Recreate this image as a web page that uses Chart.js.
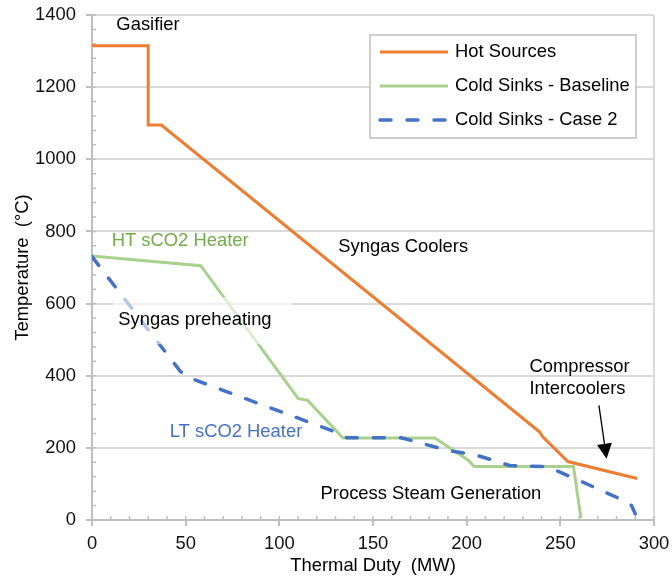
<!DOCTYPE html>
<html>
<head>
<meta charset="utf-8">
<script src="https://cdn.jsdelivr.net/npm/chart.js@4"></script>
<style>
  html,body{margin:0;background:#fff}
  #wrap{width:672px;height:580px}
</style>
</head>
<body>
<div id="wrap"><canvas id="c" width="672" height="580"></canvas></div>
<script>
/* ---- data ---- */
const hotX   = [0, 30, 30, 37, 239, 240.5, 254, 291];
const hotY   = [1315, 1315, 1095, 1095, 244, 231, 162, 115];
const baseX  = [0, 58, 110, 115, 134, 183, 201, 204, 257, 261];
const baseY  = [732, 705, 337, 332, 227, 227, 165, 148, 148, 5];
const case2X = [0, 47, 51, 130, 136, 165, 175, 190, 205, 223, 243, 262, 280, 288, 290];
const case2Y = [730, 413, 396, 244, 228, 228, 214, 193, 180, 151, 148, 105, 63, 40, 17];
const seriesNames = ['Hot Sources', 'Cold Sinks - Baseline', 'Cold Sinks - Case 2'];
const xTicks = [0, 50, 100, 150, 200, 250, 300];
const yTicks = [0, 200, 400, 600, 800, 1000, 1200, 1400];

// text labels on the plot, placed in data units
const notes = [
  {t:'Gasifier', x:13, y:1372, c:'#000'},
  {t:'HT sCO2 Heater', x:10.5, y:774, c:'#70ad47'},
  {t:'Syngas Coolers', x:131.5, y:757, c:'#000'},
  {t:'Syngas preheating', x:14, y:554, c:'#000', box:true},
  {t:'LT sCO2 Heater', x:41.5, y:244, c:'#4472c4'},
  {t:'Compressor', x:233.5, y:424, c:'#000'},
  {t:'Intercoolers', x:233.5, y:364, c:'#000'},
  {t:'Process Steam Generation', x:122, y:73.5, c:'#000'}
];
const arrow = {x1:270.6, y1:318, x2:274.7, y2:170};

const FONT = "'Liberation Sans', Arial, sans-serif";
const FS = 18.4;
const AXIS = '#bfbfbf', GRID = '#d9d9d9';
const pts = (xs, ys) => xs.map((x, i) => ({x, y: ys[i]}));

/* ---- extras: minor ticks, notes, arrow, legend ---- */
const extras = {
  id: 'extras',
  beforeDatasetsDraw(ch){
    const {ctx, chartArea:a, scales:{x, y}} = ch;
    ctx.save();
    ctx.strokeStyle = AXIS; ctx.lineWidth = 1.5;
    ctx.beginPath();
    for(let v = 0; v <= 300; v += 10){ const px = x.getPixelForValue(v); ctx.moveTo(px, a.bottom); ctx.lineTo(px, a.bottom - 4); }
    for(let v = 0; v <= 1400; v += 40){ const py = y.getPixelForValue(v); ctx.moveTo(a.left, py); ctx.lineTo(a.left + 4, py); }
    ctx.stroke();
    ctx.restore();
  },
  afterDatasetsDraw(ch){
    const {ctx, scales:{x, y}} = ch;
    ctx.save();
    ctx.font = FS + 'px ' + FONT;
    ctx.textBaseline = 'middle';
    notes.forEach(n => {
      const px = x.getPixelForValue(n.x), py = y.getPixelForValue(n.y);
      if(n.box){
        const w = ctx.measureText(n.t).width;
        ctx.fillStyle = 'rgba(255,255,255,0.6)';
        ctx.fillRect(px - 5, py - 23, w + 26, 47);
      }
      ctx.fillStyle = n.c;
      ctx.fillText(n.t, px, py);
    });
    // arrow to the intercooler segment
    const x1 = x.getPixelForValue(arrow.x1), y1 = y.getPixelForValue(arrow.y1);
    const x2 = x.getPixelForValue(arrow.x2), y2 = y.getPixelForValue(arrow.y2);
    const ang = Math.atan2(y2 - y1, x2 - x1), L = 15, W = 7.5;
    const bx = x2 - L*Math.cos(ang), by = y2 - L*Math.sin(ang);
    ctx.strokeStyle = '#000'; ctx.lineWidth = 1.3;
    ctx.beginPath(); ctx.moveTo(x1, y1); ctx.lineTo(bx, by); ctx.stroke();
    ctx.fillStyle = '#000';
    ctx.beginPath();
    ctx.moveTo(x2, y2);
    ctx.lineTo(bx + W*Math.sin(ang), by - W*Math.cos(ang));
    ctx.lineTo(bx - W*Math.sin(ang), by + W*Math.cos(ang));
    ctx.closePath(); ctx.fill();
    ctx.restore();
  },
  afterDraw(ch){
    const {ctx, chartArea:a} = ch;
    const bw = 266, bh = 103, left = a.right - 18 - bw, top = a.top + 20;
    ctx.save();
    ctx.fillStyle = '#fff'; ctx.fillRect(left, top, bw, bh);
    ctx.strokeStyle = AXIS; ctx.lineWidth = 1.5; ctx.strokeRect(left, top, bw, bh);
    ctx.font = FS + 'px ' + FONT; ctx.textBaseline = 'middle'; ctx.fillStyle = '#000';
    ch.data.datasets.forEach((ds, i) => {
      const ry = top + 17 + i*34;
      ctx.save();
      ctx.strokeStyle = ds.borderColor; ctx.lineWidth = ds.borderWidth;
      ctx.lineCap = ds.borderDash ? 'round' : 'butt';
      ctx.setLineDash(ds.borderDash || []);
      ctx.beginPath(); ctx.moveTo(left + 10, ry); ctx.lineTo(left + 78, ry); ctx.stroke();
      ctx.restore();
      ctx.fillText(ds.label, left + 85, ry);
    });
    ctx.restore();
  }
};

new Chart(document.getElementById('c'), {
  type: 'line',
  data: {datasets: [
    {label: seriesNames[0], data: pts(hotX, hotY), borderColor: '#ed7d31', borderWidth: 3, order: 2},
    {label: seriesNames[1], data: pts(baseX, baseY), borderColor: '#a9d18e', borderWidth: 3, order: 1},
    {label: seriesNames[2], data: pts(case2X, case2Y), borderColor: '#4472c4', borderWidth: 3.5,
      borderDash: [11, 16], borderCapStyle: 'round', order: 0}
  ]},
  options: {
    responsive: false,
    animation: false,
    events: [],
    layout: {padding: {top: 15, right: 18, left: 0, bottom: 0}},
    elements: {point: {radius: 0}, line: {tension: 0, fill: false}},
    plugins: {legend: {display: false}, tooltip: {enabled: false}},
    scales: {
      x: {
        type: 'linear', min: 0, max: 300,
        afterFit: s => { s.height = 60; s.paddingLeft = 0; s.paddingRight = 0; },
        afterBuildTicks: s => { s.ticks = xTicks.map(v => ({value: v})); },
        border: {color: AXIS, width: 2},
        grid: {color: c => c.tick && c.tick.value === 300 ? GRID : 'transparent', lineWidth: 2,
               tickColor: AXIS, tickLength: 6, drawTicks: true},
        ticks: {font: {family: FONT, size: FS}, color: '#111', padding: 7, maxRotation: 0,
                callback: v => String(v)},
        title: {display: true, text: 'Thermal Duty  (MW)', font: {family: FONT, size: FS}, color: '#000',
                padding: {top: 0, bottom: 3}}
      },
      y: {
        min: 0, max: 1400,
        afterFit: s => { s.width = 92; s.paddingTop = 0; s.paddingBottom = 0; },
        afterBuildTicks: s => { s.ticks = yTicks.map(v => ({value: v})); },
        border: {color: AXIS, width: 2},
        grid: {color: GRID, lineWidth: 2, tickColor: AXIS, tickLength: 6},
        ticks: {font: {family: FONT, size: FS}, color: '#111', padding: 10, callback: v => String(v)},
        title: {display: true, text: 'Temperature  (°C)', font: {family: FONT, size: FS}, color: '#000',
                padding: {top: 12, bottom: 0}}
      }
    }
  },
  plugins: [extras]
});
</script>
</body>
</html>
